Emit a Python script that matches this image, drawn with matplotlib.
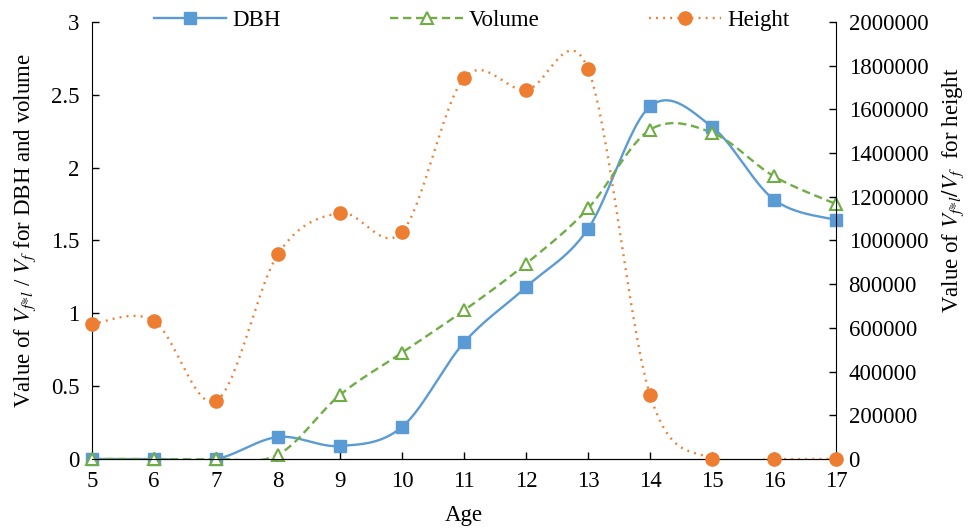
import numpy as np
import matplotlib.pyplot as plt
from matplotlib.lines import Line2D

plt.rcParams['font.family'] = 'Liberation Serif'
plt.rcParams['mathtext.fontset'] = 'stix'

age = [5, 6, 7, 8, 9, 10, 11, 12, 13, 14, 15, 16, 17]
dbh = [0, 0, 0, 0.151, 0.089, 0.22, 0.80, 1.18, 1.58, 2.42, 2.28, 1.78, 1.64]
volume = [0, 0, 0, 0.03, 0.44, 0.73, 1.02, 1.34, 1.72, 2.26, 2.24, 1.94, 1.75]
height = [617800, 631600, 265400, 938000, 1125900, 1038900, 1743700,
          1688800, 1784900, 292900, 0, 0, 0]
left_ticks = ['0', '0.5', '1', '1.5', '2', '2.5', '3']
right_ticks = [str(v) for v in range(0, 2000001, 200000)]


def smooth(x, y, n=30):
    # excel style smoothed line: bezier segments through the points
    x = np.asarray(x, float)
    y = np.asarray(y, float)
    xs, ys = [], []
    m = len(x)
    for i in range(m - 1):
        p0 = np.array([x[max(i - 1, 0)], y[max(i - 1, 0)]])
        p1 = np.array([x[i], y[i]])
        p2 = np.array([x[i + 1], y[i + 1]])
        p3 = np.array([x[min(i + 2, m - 1)], y[min(i + 2, m - 1)]])
        c1 = p1 + (p2 - p0) / 6
        c2 = p2 - (p3 - p1) / 6
        t = np.linspace(0, 1, n)[:, None]
        b = ((1 - t) ** 3) * p1 + 3 * ((1 - t) ** 2) * t * c1 + 3 * (1 - t) * t ** 2 * c2 + t ** 3 * p2
        xs.extend(b[:, 0])
        ys.extend(b[:, 1])
    return xs, ys


blue = '#5B9BD5'
green = '#70AD47'
orange = '#ED7D31'
fs = 16.5

fig = plt.figure(figsize=(9.79, 5.28), dpi=100)
ax = fig.add_axes([0.094, 0.1307, 0.760, 0.8277])
ax2 = ax.twinx()

sx, sy = smooth(age, dbh)
ax.plot(sx, sy, color=blue, lw=1.7, zorder=3)
ax.plot(age, dbh, 's', color=blue, ms=9, zorder=4, clip_on=False)

sx, sy = smooth(age, volume)
ax.plot(sx, sy, color=green, lw=1.7, ls=(0, (3.5, 2)), zorder=3)
ax.plot(age, volume, '^', mfc='white', mec=green, mew=1.5, ms=9, zorder=4, clip_on=False)

sx, sy = smooth(age, height)
ax2.plot(sx, sy, color=orange, lw=1.7, ls=(0, (0.8, 2.2)), zorder=3)
ax2.plot(age, height, 'o', color=orange, ms=9.5, zorder=4, clip_on=False)

ax.set_xlim(5, 17)
ax.set_ylim(0, 3)
ax2.set_ylim(0, 2000000)
ax.set_xticks(age)
ax.set_yticks([0, 0.5, 1, 1.5, 2, 2.5, 3])
ax.set_yticklabels(left_ticks)
ax2.set_yticks(range(0, 2000001, 200000))
ax2.set_yticklabels(right_ticks)

for a in (ax, ax2):
    a.spines['top'].set_visible(False)
    a.tick_params(direction='in', length=5, width=1, labelsize=fs)
ax.tick_params(axis='x', pad=9)
ax.tick_params(axis='y', pad=9)
ax2.tick_params(axis='y', pad=9)
ax.spines['right'].set_visible(False)
ax2.spines['left'].set_visible(False)

ax.set_xlabel('Age', fontsize=fs, labelpad=9)
ax.set_ylabel(r'Value of $V_{f{*}l}$ / $V_f$ for DBH and volume', fontsize=fs)
ax2.set_ylabel(r'Value of $V_{f{*}l}/V_f$  for height', fontsize=fs)
ax.yaxis.set_label_coords(-0.072, 0.522)
ax2.yaxis.set_label_coords(1.140, 0.616)

handles = [
    Line2D([], [], color=blue, lw=1.7, marker='s', ms=9),
    Line2D([], [], color=green, lw=1.7, ls=(0, (3.5, 2)), marker='^', mfc='white', mec=green, mew=1.5, ms=9),
    Line2D([], [], color=orange, lw=1.7, ls=(0, (0.8, 2.2)), marker='o', ms=9.5),
]
fig.legend(handles, ['DBH', 'Volume', 'Height'], ncol=3, loc='center left',
           bbox_to_anchor=(0.148, 0.962), frameon=False, fontsize=fs,
           borderaxespad=0, handlelength=3.15, columnspacing=4.8, handletextpad=0.25)

fig.savefig('out.png', dpi=100)
